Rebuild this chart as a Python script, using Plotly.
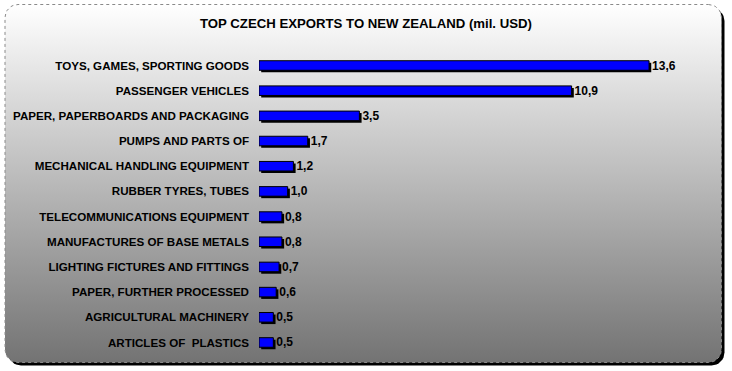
import plotly.graph_objects as go

categories = [
    "TOYS, GAMES, SPORTING GOODS",
    "PASSENGER VEHICLES",
    "PAPER, PAPERBOARDS AND PACKAGING",
    "PUMPS AND PARTS OF",
    "MECHANICAL HANDLING EQUIPMENT",
    "RUBBER TYRES, TUBES",
    "TELECOMMUNICATIONS EQUIPMENT",
    "MANUFACTURES OF BASE METALS",
    "LIGHTING FICTURES AND FITTINGS",
    "PAPER, FURTHER PROCESSED",
    "AGRICULTURAL MACHINERY",
    "ARTICLES OF  PLASTICS",
]
values = [13.6, 10.9, 3.5, 1.7, 1.2, 1.0, 0.8, 0.8, 0.7, 0.6, 0.5, 0.5]
value_labels = [f"{v:.1f}".replace(".", ",") for v in values]
title = "TOP CZECH EXPORTS TO NEW ZEALAND (mil. USD)"

W, H = 732, 371
FONT = "Liberation Sans, Arial, sans-serif"

# geometry (pixels)
x0_px = 259.0
px_per_unit = 28.68
row0_px, row_step = 65.5, 25.18
x_right_px = 715.0
n = len(categories)
idx = list(range(n))

y_top_px = row0_px - 0.5 * row_step
y_bot_px = row0_px + (n - 0.5) * row_step

sx = 2.2 / px_per_unit
sy = 2.0 / row_step

fig = go.Figure()

# frame (rounded rect) in pixel coordinates on background axes
def rounded_rect(x0, y0, x1, y1, r, steps=8):
    import math
    pts = []
    corners = [
        (x1 - r, y0 + r, -90, 0),
        (x1 - r, y1 - r, 0, 90),
        (x0 + r, y1 - r, 90, 180),
        (x0 + r, y0 + r, 180, 270),
    ]
    for cx, cy, a0, a1 in corners:
        for k in range(steps + 1):
            a = math.radians(a0 + (a1 - a0) * k / steps)
            pts.append((cx + r * math.cos(a), cy + r * math.sin(a)))
    pts.append(pts[0])
    return [p[0] for p in pts], [p[1] for p in pts]

sxs, sys_ = rounded_rect(8, 8, 724.5, 365.5, 13)
fig.add_trace(go.Scatter(x=sxs, y=sys_, fill="toself", fillcolor="black",
                         line=dict(color="black", width=0), mode="lines",
                         hoverinfo="skip", showlegend=False, xaxis="x", yaxis="y"))
fxs, fys = rounded_rect(5, 4.5, 721.5, 362.5, 13)
fig.add_trace(go.Scatter(x=fxs, y=fys, fill="toself",
                         fillgradient=dict(type="vertical", start=4.5, stop=362.5,
                                           colorscale=[[0, "#ffffff"], [1, "#737373"]]),
                         line=dict(color="#8a8a8a", width=1, dash="dot"), mode="lines",
                         hoverinfo="skip", showlegend=False, xaxis="x", yaxis="y"))

# bar shadows
fig.add_trace(go.Bar(y=[i + sy for i in idx], x=values, base=[sx] * n, orientation="h",
                     width=0.38, marker=dict(color="black", line=dict(width=0)),
                     hoverinfo="skip", showlegend=False, xaxis="x2", yaxis="y2"))
# bars
fig.add_trace(go.Bar(y=idx, x=values, orientation="h", width=0.38,
                     marker=dict(color="#0000ff", line=dict(color="black", width=1)),
                     text=value_labels, textposition="outside", cliponaxis=False,
                     constraintext="none",
                     textfont=dict(family=FONT, size=12, color="black", weight="bold"),
                     showlegend=False, xaxis="x2", yaxis="y2"))

fig.update_layout(
    width=W, height=H,
    margin=dict(l=0, r=0, t=0, b=0),
    paper_bgcolor="white", plot_bgcolor="rgba(0,0,0,0)",
    barmode="overlay",
    xaxis=dict(domain=[0, 1], range=[0, W], visible=False, fixedrange=True),
    yaxis=dict(domain=[0, 1], range=[H, 0], visible=False, fixedrange=True),
    xaxis2=dict(domain=[x0_px / W, x_right_px / W],
                range=[0, (x_right_px - x0_px) / px_per_unit],
                anchor="y2", visible=False),
    yaxis2=dict(domain=[(H - y_bot_px) / H, (H - y_top_px) / H],
                range=[n - 0.5, -0.5], anchor="x2",
                tickvals=idx, ticktext=categories,
                tickfont=dict(family=FONT, size=11.6, color="black", weight="bold"),
                ticks="", ticklabelstandoff=9, showgrid=False, zeroline=False,
                showline=False),
    annotations=[dict(text=title, x=366, y=23.5, xref="x", yref="y", showarrow=False,
                      font=dict(family=FONT, size=13.2, color="black", weight="bold"))],
)

fig.write_html("out.html")
